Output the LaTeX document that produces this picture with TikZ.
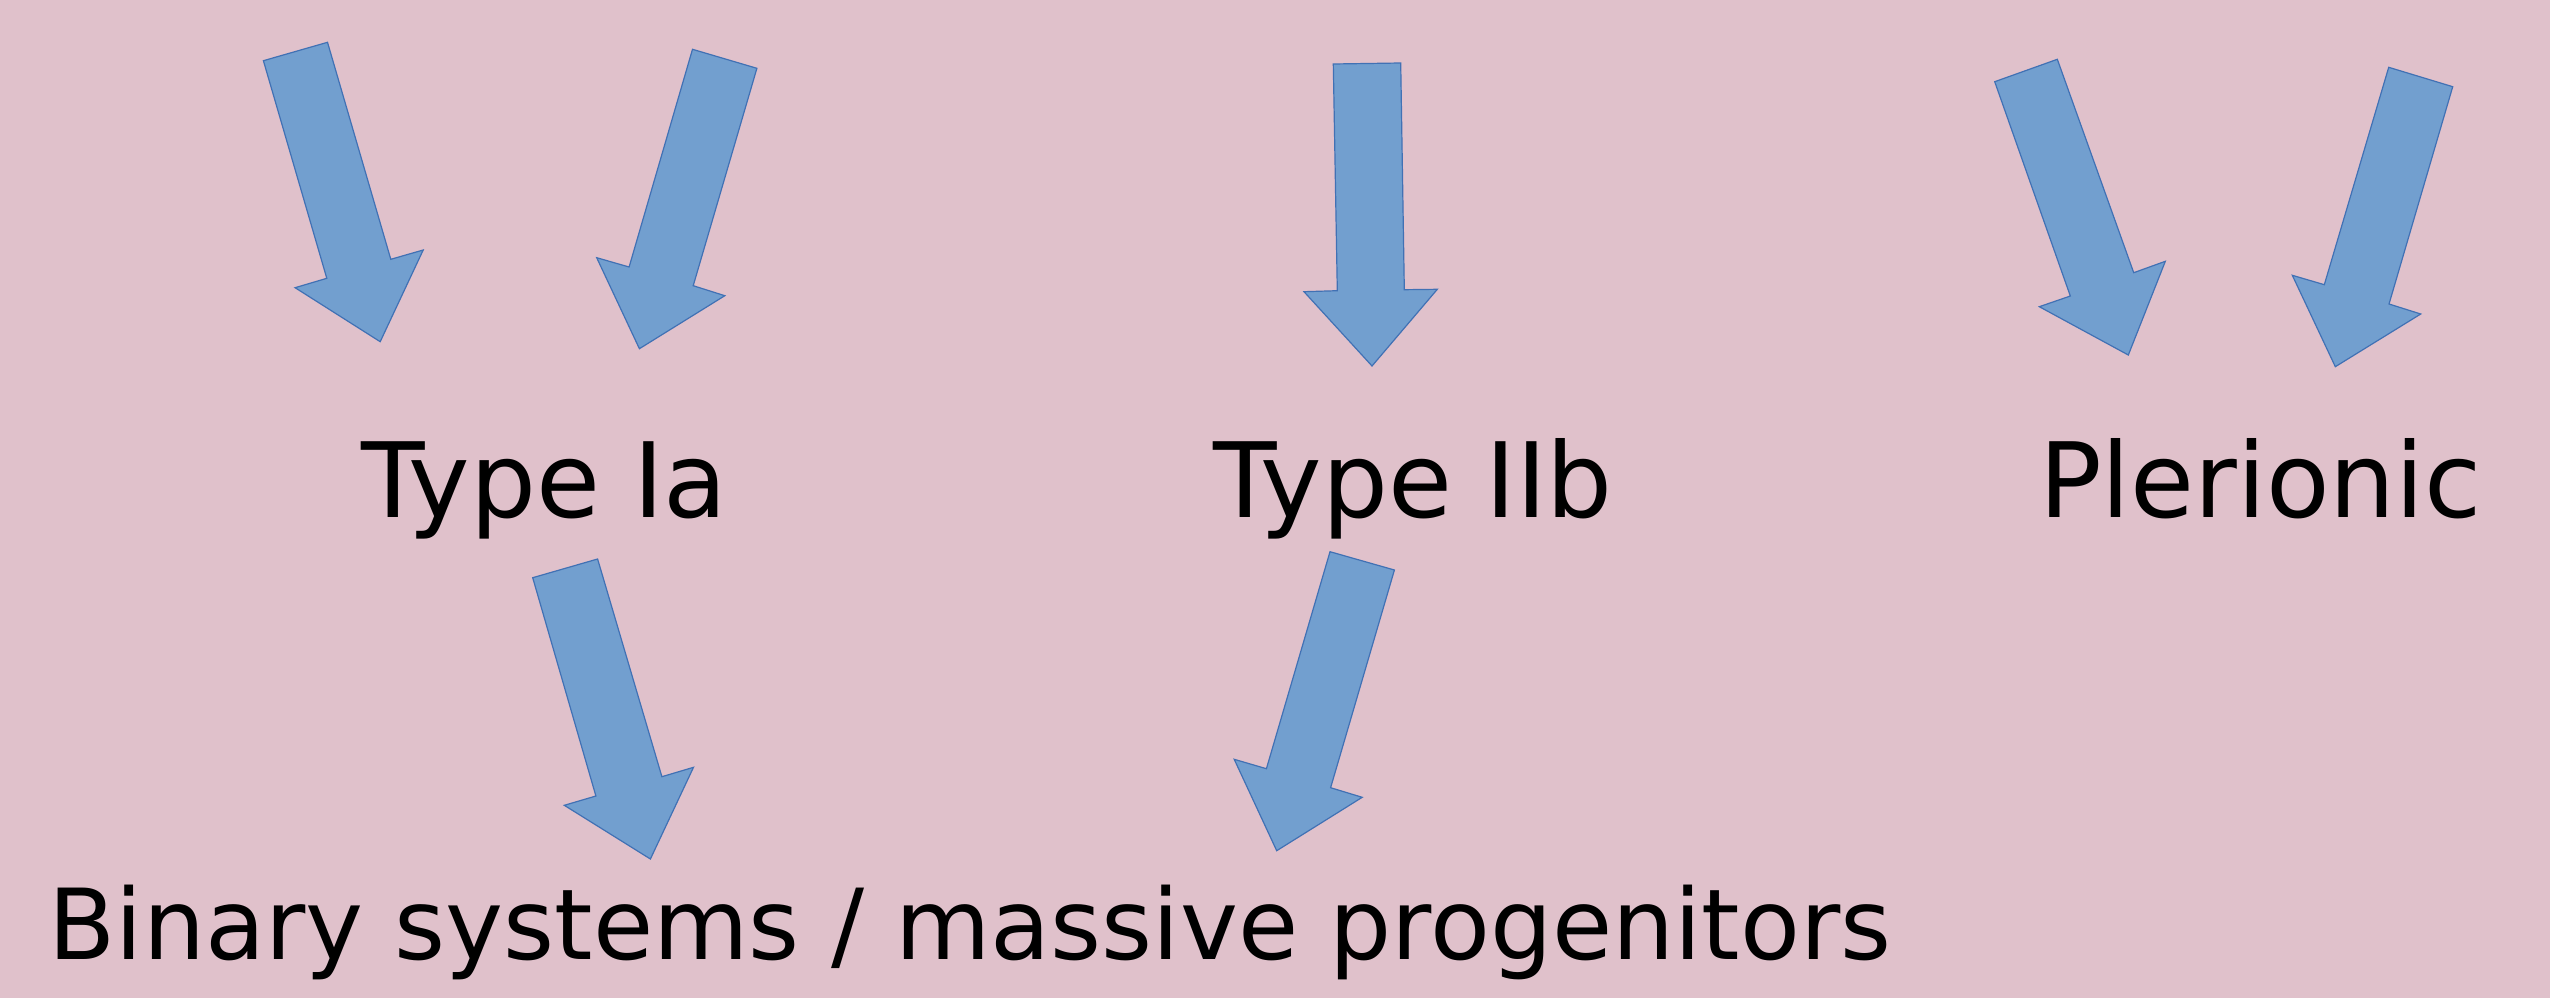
\documentclass[tikz,border=0pt]{standalone}
\usepackage{fontspec}
\setmainfont{DejaVu Sans}
\definecolor{bgpink}{RGB}{224,193,203}
\definecolor{arrowfill}{RGB}{114,159,207}
\definecolor{arrowline}{RGB}{65,113,180}
\tikzset{
  blockarrow/.style={fill=arrowfill, draw=arrowline, line width=1.2pt, line join=miter},
  label/.style={anchor=base, inner sep=0pt, font=\fontsize{104}{120}\selectfont},
  biglabel/.style={anchor=base, inner sep=0pt, font=\fontsize{98}{114}\selectfont}
}
\begin{document}
\begin{tikzpicture}[x=1pt,y=-1pt]
\fill[bgpink] (0,0) rectangle (2550,998);
\useasboundingbox (0,0) rectangle (2550,998);
% top arrows
\draw[blockarrow] (263.4,60.7) -- (327.5,42.3) -- (390.8,259.3) -- (423.2,250) -- (380.2,341.7) -- (295.1,287.7) -- (326.8,278.3) -- cycle;
\draw[blockarrow] (692.5,49.3) -- (756.9,68.3) -- (693.2,285.7) -- (724.8,295.7) -- (639.4,348.7) -- (596.7,257.7) -- (629.1,267) -- cycle;
\draw[blockarrow] (1333.3,64) -- (1400.7,63) -- (1404.3,289.7) -- (1437.3,289.3) -- (1372,366) -- (1304,291.7) -- (1337.3,290.7) -- cycle;
\draw[blockarrow] (1994.7,81.7) -- (2057.3,59.3) -- (2133.7,272.7) -- (2165.3,261.3) -- (2128.3,355) -- (2039.3,306.7) -- (2070.3,296) -- cycle;
\draw[blockarrow] (2388.7,67.3) -- (2452.7,86.7) -- (2389,304) -- (2420.7,314) -- (2335.3,366.7) -- (2292.3,275.3) -- (2324.3,284.7) -- cycle;
% bottom arrows
\draw[blockarrow] (532.7,577.7) -- (597.6,559) -- (661.9,776.7) -- (693.5,767.3) -- (650.4,859) -- (564.3,805.3) -- (595.9,796) -- cycle;
\draw[blockarrow] (1330,551.7) -- (1394.4,570) -- (1330.6,787.7) -- (1362.2,797.3) -- (1276.7,850.7) -- (1234.2,759.3) -- (1266.4,768.7) -- cycle;
% labels
\node[label] (ia) at (544.5,517) {Type Ia};
\node[label] (iib) at (1413,517) {Type IIb};
\node[label] (pler) at (2260.5,517) {Plerionic};
\node[biglabel] (bin) at (970,959) {Binary systems / massive progenitors};
\end{tikzpicture}
\end{document}
